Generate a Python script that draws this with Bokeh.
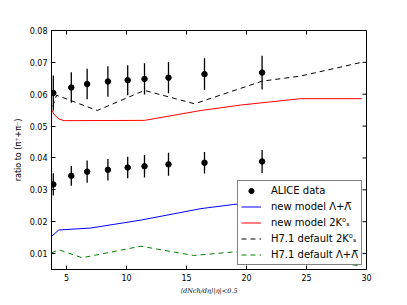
import math
from bokeh.plotting import figure
from bokeh.models import FixedTicker, Range1d, Legend, LegendItem
from bokeh.embed import file_html
from bokeh.resources import INLINE

# ALICE data
alice_x = [3.90, 5.40, 6.72, 8.45, 10.1, 11.5, 13.5, 16.5, 21.3]
alice_k0 = [0.0604, 0.0621, 0.0632, 0.0640, 0.0644, 0.0648, 0.0652, 0.0663, 0.0668]
alice_k0_err = [0.0055, 0.0048, 0.0048, 0.0048, 0.0047, 0.0049, 0.0049, 0.0050, 0.0053]
alice_lam = [0.0317, 0.0344, 0.0357, 0.0363, 0.0370, 0.0374, 0.0380, 0.0385, 0.0389]
alice_lam_err = [0.0035, 0.0031, 0.0035, 0.0034, 0.0034, 0.0035, 0.0036, 0.0034, 0.0036]

# new model Lambda
new_lam_x = [3.75, 4.36, 7.0, 11.2, 16.2, 18.9, 21.3, 25.0, 29.6]
new_lam_y = [0.0154, 0.0174, 0.0180, 0.0205, 0.0241, 0.0254, 0.0262, 0.0272, 0.0280]
# new model 2K0s
new_k0_x = [3.75, 4.0, 4.4, 4.8, 11.5, 16.2, 19.5, 24.5, 29.6]
new_k0_y = [0.0551, 0.0535, 0.0522, 0.0517, 0.0518, 0.0549, 0.0566, 0.0586, 0.0586]
# H7.1 default 2K0s
h7_k0_x = [3.86, 4.17, 7.56, 11.5, 15.67, 21.3, 24.5, 29.7]
h7_k0_y = [0.0562, 0.0597, 0.0549, 0.0612, 0.0570, 0.0641, 0.0657, 0.0701]
# H7.1 default Lambda
h7_lam_x = [3.75, 4.36, 6.3, 11.2, 15.6, 18.9, 21.3, 25.0, 29.6]
h7_lam_y = [0.0102, 0.0112, 0.0087, 0.0123, 0.0094, 0.0105, 0.0105, 0.0090, 0.0060]

x_ticks = [5, 10, 15, 20, 25, 30]
y_ticks = [0.01, 0.02, 0.03, 0.04, 0.05, 0.06, 0.07, 0.08]
x_lo, x_hi = 3.75, 30
y_lo, y_hi = 0.005, 0.08

p = figure(width=399, height=297, output_backend="svg", toolbar_location=None,
           x_range=Range1d(x_lo, x_hi), y_range=Range1d(y_lo, y_hi),
           min_border_left=51, min_border_right=33, min_border_top=30, min_border_bottom=24)
p.grid.visible = False
p.outline_line_color = "black"
p.outline_line_width = 1
p.background_fill_color = "white"
p.border_fill_color = "white"

font = "DejaVu Sans"
for ax in [p.xaxis[0], p.yaxis[0]]:
    ax.major_tick_in = 4
    ax.major_tick_out = 0
    ax.minor_tick_in = 0
    ax.minor_tick_out = 0
    ax.major_label_text_font = font
    ax.major_label_text_font_size = "8px"
    ax.major_label_text_color = "black"
    ax.axis_line_color = "black"
    ax.major_tick_line_color = "black"
    ax.major_label_standoff = 4

p.xaxis[0].ticker = FixedTicker(ticks=x_ticks)
p.yaxis[0].ticker = FixedTicker(ticks=y_ticks)
p.yaxis[0].axis_label = "ratio to (π⁺+π⁻)"
p.yaxis[0].axis_label_text_font = font
p.yaxis[0].axis_label_text_font_style = "normal"
p.yaxis[0].axis_label_text_font_size = "8px"
p.yaxis[0].axis_label_text_color = "black"
p.yaxis[0].axis_label_standoff = 4
p.xaxis[0].axis_label = "⟨dNch/dη⟩|η|<0.5"
p.xaxis[0].axis_label_text_font = "DejaVu Serif"
p.xaxis[0].axis_label_text_font_style = "italic"
p.xaxis[0].axis_label_text_font_size = "6.5px"
p.xaxis[0].axis_label_text_color = "black"
p.xaxis[0].axis_label_standoff = 3

# inward ticks on top and right edges (clipped to the frame)
p.scatter(x_ticks, [y_hi] * len(x_ticks), marker="dash", angle=math.pi / 2, size=8,
          line_color="black", line_width=1)
p.scatter([x_hi] * len(y_ticks), y_ticks, marker="dash", size=8,
          line_color="black", line_width=1)

# model lines
r_blue = p.line(new_lam_x, new_lam_y, line_color="#0000ff", line_width=1)
r_red = p.line(new_k0_x, new_k0_y, line_color="#ff0000", line_width=1)
r_blk = p.line(h7_k0_x, h7_k0_y, line_color="black", line_width=1, line_dash="5 4")
r_grn = p.line(h7_lam_x, h7_lam_y, line_color="#008000", line_width=1, line_dash="5 4")

# data with error bars
lo_k = [v - e for v, e in zip(alice_k0, alice_k0_err)]
hi_k = [v + e for v, e in zip(alice_k0, alice_k0_err)]
lo_l = [v - e for v, e in zip(alice_lam, alice_lam_err)]
hi_l = [v + e for v, e in zip(alice_lam, alice_lam_err)]
p.segment(alice_x, lo_k, alice_x, hi_k, line_color="black", line_width=1.3)
p.segment(alice_x, lo_l, alice_x, hi_l, line_color="black", line_width=1.3)
r_dat = p.scatter(alice_x + alice_x, alice_k0 + alice_lam, size=5.5, marker="circle",
                  fill_color="black", line_color="black")

legend = Legend(items=[
    LegendItem(label="ALICE data", renderers=[r_dat]),
    LegendItem(label="new model Λ+Λ̅", renderers=[r_blue]),
    LegendItem(label="new model 2K⁰ₛ", renderers=[r_red]),
    LegendItem(label="H7.1 default 2K⁰ₛ", renderers=[r_blk]),
    LegendItem(label="H7.1 default Λ+Λ̅", renderers=[r_grn]),
], location="bottom_right")
legend.label_text_font = font
legend.label_text_font_size = "10px"
legend.label_text_color = "black"
legend.label_height = 13
legend.glyph_height = 13
legend.glyph_width = 20
legend.spacing = 3
legend.padding = 3
legend.margin = 4
legend.label_standoff = 10
legend.border_line_color = "black"
legend.border_line_width = 1
legend.background_fill_alpha = 1.0
p.add_layout(legend, "center")

open("out.html", "w").write(file_html(p, INLINE))
